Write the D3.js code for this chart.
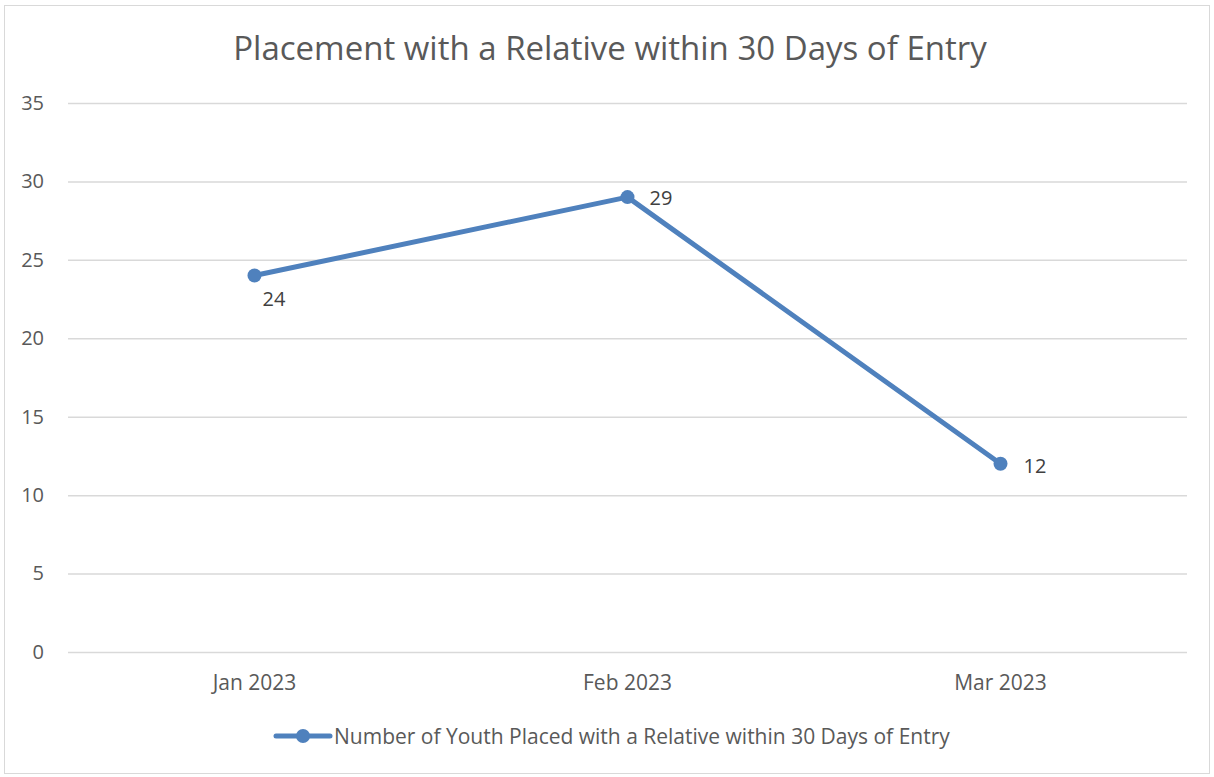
<!DOCTYPE html>
<html>
<head>
<meta charset="utf-8">
<script src="https://cdn.jsdelivr.net/npm/d3@7"></script>
<style>
  body { margin: 0; background: #fff; }
  text { font-family: "Open Sans", sans-serif; }
</style>
</head>
<body>
<div id="chart-area"></div>
<script>
let months = ["Jan 2023", "Feb 2023", "Mar 2023"];
let youthPlaced = [24, 29, 12];
let yTicks = [0, 5, 10, 15, 20, 25, 30, 35];
let seriesName = "Number of Youth Placed with a Relative within 30 Days of Entry";
let title = "Placement with a Relative within 30 Days of Entry";

let svgW = 1214;
let svgH = 777;

let margin = { left: 68, right: 27, top: 103, bottom: 125 };
let chartW = svgW - margin.left - margin.right;
let chartH = svgH - margin.top - margin.bottom;

let blue = "#4f81bd";
let fontF = "'Open Sans', sans-serif";

let svg = d3.select("#chart-area")
  .append("svg")
  .attr("width", svgW)
  .attr("height", svgH);

svg.append("rect")
  .attr("x", 4.5).attr("y", 5.5)
  .attr("width", 1205).attr("height", 768)
  .attr("fill", "#fff")
  .attr("stroke", "#d9d9d9");

svg.append("text")
  .attr("x", 610).attr("y", 60)
  .attr("text-anchor", "middle")
  .attr("font-size", 33)
  .attr("fill", "#595959")
  .text(title);

let g = svg.append("g")
  .attr("transform", `translate(${margin.left},${margin.top})`);

let x = d3.scaleBand().domain(months).range([0, chartW]);
let y = d3.scaleLinear().domain([0, 35]).range([chartH, 0]);

// gridlines + y labels
let yAxis = g.append("g")
  .call(d3.axisLeft(y).tickValues(yTicks).tickSize(-chartW).tickPadding(24));
yAxis.select(".domain").remove();
yAxis.selectAll(".tick line").attr("stroke", "#d9d9d9").attr("stroke-width", 1.5);
yAxis.selectAll(".tick text")
  .attr("font-size", 20).attr("fill", "#595959")
  .attr("font-family", fontF);

let xAxis = g.append("g")
  .attr("transform", `translate(0,${chartH})`)
  .call(d3.axisBottom(x).tickSize(0).tickPadding(23));
xAxis.select(".domain").remove();
xAxis.selectAll(".tick text")
  .attr("font-size", 21).attr("fill", "#595959")
  .attr("font-family", fontF);

let pts = months.map((m, i) => ({ month: m, value: youthPlaced[i] }));
let cx = d => x(d.month) + x.bandwidth() / 2;

let line = d3.line().x(cx).y(d => y(d.value));

g.append("path")
  .datum(pts)
  .attr("d", line)
  .attr("fill", "none")
  .attr("stroke", blue)
  .attr("stroke-width", 5)
  .attr("stroke-linejoin", "round");

g.selectAll("circle.pt")
  .data(pts)
  .enter().append("circle")
  .attr("class", "pt")
  .attr("cx", cx)
  .attr("cy", d => y(d.value))
  .attr("r", 7)
  .attr("fill", blue);

// data labels: first one sits below-right, others to the right
let labelOffset = [[8, 30], [22, 8], [23, 9]];
g.selectAll("text.lbl")
  .data(pts)
  .enter().append("text")
  .attr("class", "lbl")
  .attr("x", (d, i) => cx(d) + labelOffset[i][0])
  .attr("y", (d, i) => y(d.value) + labelOffset[i][1])
  .attr("font-size", 20)
  .attr("fill", "#404040")
  .text(d => d.value);

// legend
let lg = svg.append("g").attr("transform", "translate(0,736)");
lg.append("line")
  .attr("x1", 276).attr("x2", 330)
  .attr("stroke", blue).attr("stroke-width", 5).attr("stroke-linecap", "round");
lg.append("circle").attr("cx", 303).attr("r", 7).attr("fill", blue);
lg.append("text")
  .attr("x", 334).attr("y", 8)
  .attr("font-size", 21).attr("fill", "#595959")
  .text(seriesName);
</script>
</body>
</html>
